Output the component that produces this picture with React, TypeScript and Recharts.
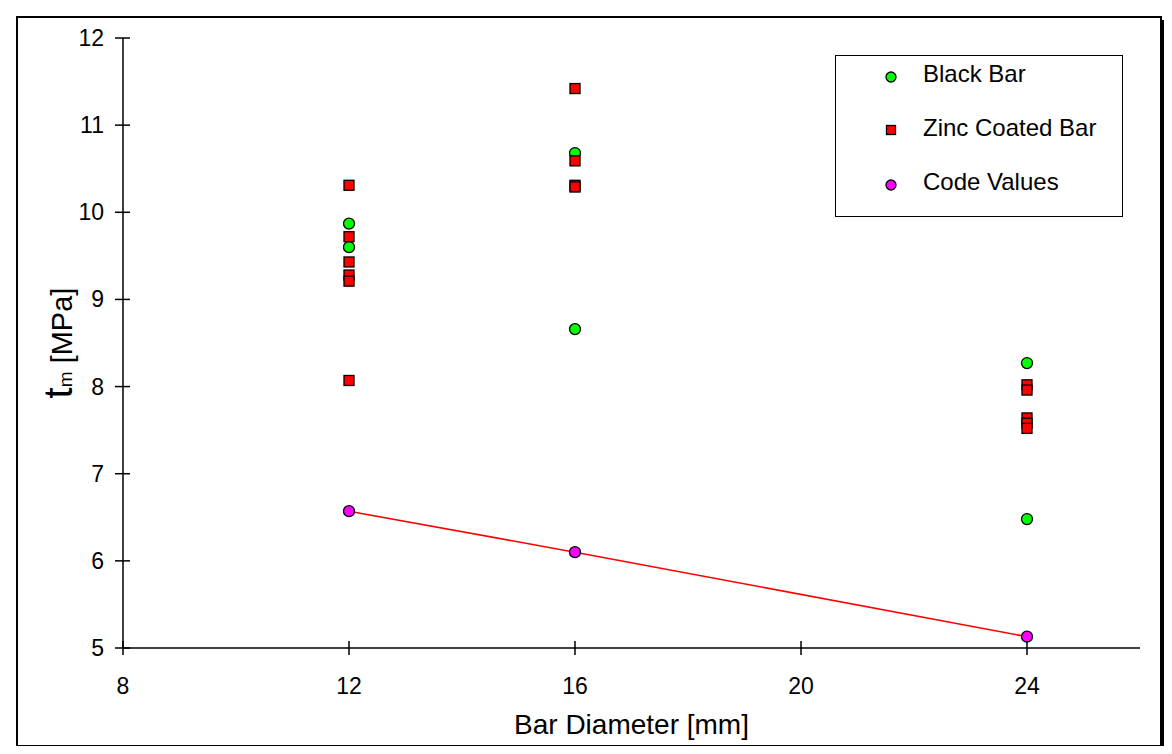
import { Legend, Scatter, ScatterChart, XAxis, YAxis } from "recharts";

const FONT = "'Liberation Sans', Arial, sans-serif";

// bar diameter [mm] / bond strength tm [MPa]
const blackBarX = [12, 12, 16, 16, 24, 24];
const blackBarY = [9.87, 9.6, 10.68, 8.66, 8.27, 6.48];

const zincBarX = [12, 12, 12, 12, 12, 12, 16, 16, 16, 16, 24, 24, 24, 24, 24];
const zincBarY = [
  10.31, 9.72, 9.43, 9.28, 9.21, 8.07, 11.42, 10.59, 10.31, 10.29, 8.02, 7.96,
  7.64, 7.58, 7.52,
];

const codeX = [12, 16, 24];
const codeY = [6.57, 6.1, 5.13];

const xTicks = [8, 12, 16, 20, 24];
const yTicks = [5, 6, 7, 8, 9, 10, 11, 12];

const toPoints = (xs: number[], ys: number[]) =>
  xs.map((x, i) => ({ x, y: ys[i] }));

const series = [
  { name: "Black Bar", data: toPoints(blackBarX, blackBarY), fill: "#00ff00", kind: "circle" },
  { name: "Zinc Coated Bar", data: toPoints(zincBarX, zincBarY), fill: "#ff0000", kind: "square" },
  { name: "Code Values", data: toPoints(codeX, codeY), fill: "#ff00ff", kind: "circle" },
];

function Marker({ cx, cy, fill, kind, size }: any) {
  if (kind === "square") {
    return (
      <rect x={cx - size} y={cy - size} width={size * 2} height={size * 2}
        fill={fill} stroke="#000" strokeWidth={1.3} />
    );
  }
  return <circle cx={cx} cy={cy} r={size + 0.5} fill={fill} stroke="#000" strokeWidth={1.3} />;
}

function YTick({ x, y, payload }: any) {
  return (
    <g>
      <line x1={x - 8} x2={x + 7} y1={y} y2={y} stroke="#000" strokeWidth={1.5} />
      <text x={x - 19} y={y + 8} textAnchor="end" fontSize={23} fill="#000" fontFamily={FONT}>
        {payload.value}
      </text>
    </g>
  );
}

function XTick({ x, y, payload }: any) {
  return (
    <g>
      <line x1={x} x2={x} y1={y - 7} y2={y + 7} stroke="#000" strokeWidth={1.5} />
      <text x={x} y={y + 46} textAnchor="middle" fontSize={23} fill="#000" fontFamily={FONT}>
        {payload.value}
      </text>
    </g>
  );
}

function XTitle({ viewBox }: any) {
  return (
    <text x={viewBox.x + viewBox.width / 2} y={viewBox.y + 86} textAnchor="middle"
      fontSize={28} fill="#000" fontFamily={FONT}>
      Bar Diameter [mm]
    </text>
  );
}

function YTitle({ viewBox }: any) {
  const cy = viewBox.y + viewBox.height / 2;
  return (
    <g transform={`translate(72, ${cy}) rotate(-90)`}>
      <text x={0} y={0} textAnchor="middle" fill="#000" fontFamily={FONT}>
        <tspan fontSize={40}>t</tspan>
        <tspan fontSize={19}>m</tspan>
        <tspan fontSize={29}> [MPa]</tspan>
      </text>
    </g>
  );
}

function LegendBox() {
  const textTops = [18, 72, 126];
  const markTops = [21, 74, 129];
  return (
    <div style={{
      width: 288, height: 162, border: "1.5px solid #000", boxSizing: "border-box",
      background: "#fff", position: "relative", fontFamily: FONT,
    }}>
      {series.map((s, i) => (
        <div key={s.name}>
          <svg width={16} height={16} style={{ position: "absolute", left: 47, top: markTops[i] - 8 }}>
            <Marker cx={8} cy={8} fill={s.fill} kind={s.kind} size={4.5} />
          </svg>
          <div style={{
            position: "absolute", left: 87, top: textTops[i] - 14, height: 28,
            lineHeight: "28px", fontSize: 24, color: "#000", whiteSpace: "nowrap",
          }}>
            {s.name}
          </div>
        </div>
      ))}
    </div>
  );
}

export default function App() {
  return (
    <div style={{ position: "relative", width: 1172, height: 754, margin: -8, overflow: "hidden", background: "#fff" }}>
      <div style={{
        position: "absolute", left: 6, top: 7, width: 1300, height: 900,
        borderTop: "1px solid #000", borderLeft: "1px solid #000",
      }} />
      <div style={{
        position: "absolute", left: 16, top: 16, width: 1146, height: 731,
        border: "2px solid #000", boxSizing: "border-box", boxShadow: "4px 4px 0 #000",
        background: "#fff",
      }} />
      <div style={{ position: "absolute", left: 0, top: 0 }}>
        <ScatterChart width={1172} height={754} margin={{ top: 38, right: 32, bottom: 16, left: 23 }}>
          <XAxis
            type="number"
            dataKey="x"
            domain={[8, 26]}
            ticks={xTicks}
            allowDataOverflow
            height={90}
            axisLine={{ stroke: "#000", strokeWidth: 1.5 }}
            tickLine={false}
            tickSize={0}
            tickMargin={0}
            tick={<XTick />}
            label={{ content: (p: any) => <XTitle {...p} /> }}
          />
          <YAxis
            type="number"
            dataKey="y"
            domain={[5, 12]}
            ticks={yTicks}
            allowDataOverflow
            width={100}
            axisLine={{ stroke: "#000", strokeWidth: 1.5 }}
            tickLine={false}
            tickSize={0}
            tickMargin={0}
            tick={<YTick />}
            label={{ content: (p: any) => <YTitle {...p} /> }}
          />
          <Legend
            layout="vertical"
            align="center"
            verticalAlign="middle"
            wrapperStyle={{ left: 835, top: 55, width: 288, height: 162 }}
            content={() => <LegendBox />}
          />
          {series.map((s) => (
            <Scatter
              key={s.name}
              name={s.name}
              data={s.data}
              fill={s.fill}
              isAnimationActive={false}
              line={s.name === "Code Values" ? { stroke: "#ff0000", strokeWidth: 1.5 } : false}
              lineType="joint"
              shape={(p: any) => <Marker cx={p.cx} cy={p.cy} fill={s.fill} kind={s.kind} size={5} />}
            />
          ))}
        </ScatterChart>
      </div>
    </div>
  );
}
